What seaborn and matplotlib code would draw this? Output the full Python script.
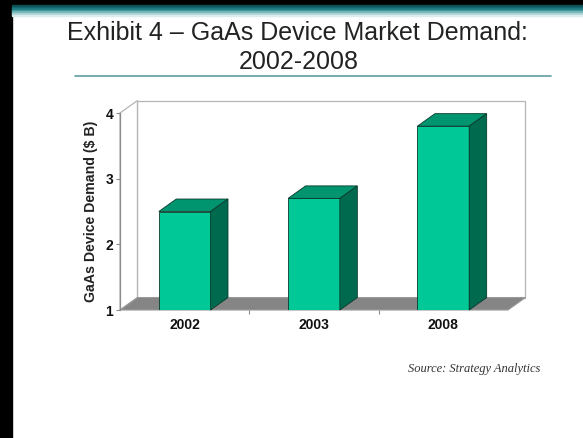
import matplotlib
matplotlib.use("Agg")
import matplotlib.pyplot as plt
from matplotlib.patches import Polygon, Rectangle
from matplotlib.lines import Line2D
import seaborn as sns
import pandas as pd

years = ["2002", "2003", "2008"]
demand = [2.5, 2.7, 3.8]          # $ billions
y_ticks = [1, 2, 3, 4]

sns.set_style("white")
plt.rcParams["font.family"] = ["Liberation Sans", "DejaVu Sans"]

W, H = 583, 438
fig = plt.figure(figsize=(W / 100, H / 100), dpi=100)
fig.patch.set_facecolor("white")


def fx(px):
    return px / W


def fy(py):
    return 1 - py / H


# slide frame: black edges and teal header strip
fig.add_artist(Rectangle((0, fy(438)), fx(12), 1, transform=fig.transFigure,
                         color="black", zorder=0))
fig.add_artist(Rectangle((0, fy(5)), 1, fy(0) - fy(5), transform=fig.transFigure,
                         color="black", zorder=0))
strip = ["#0d4f55", "#14646a", "#1e7a7e", "#3a9396", "#6fb3b5", "#a9d3d4", "#dcecec"]
for i, c in enumerate(strip):
    top = 5 + i * 1.6
    fig.add_artist(Rectangle((fx(12), fy(top + 1.6)), 1, 1.6 / H,
                             transform=fig.transFigure, color=c, zorder=0))

fig.text(fx(297), fy(33), "Exhibit 4 \u2013 GaAs Device Market Demand:",
         ha="center", va="center", fontsize=18, color="#222222")
fig.text(fx(299), fy(62), "2002-2008", ha="center", va="center",
         fontsize=18, color="#222222")
fig.add_artist(Line2D([fx(75), fx(551)], [fy(76), fy(76)],
                      transform=fig.transFigure, color="#5e9ea3", lw=1.2))

ax = fig.add_axes([fx(120), fy(310), fx(508) - fx(120), fy(113) - fy(310)])
df = pd.DataFrame({"year": years, "demand": demand})

front = "#00c896"
top_c = "#00956e"
side_c = "#006a4f"
edge = "#0a3a2c"

sns.barplot(data=df, x="year", y="demand", color=front, saturation=1,
            width=0.4, edgecolor=edge, linewidth=0.6, ax=ax, zorder=3)

ax.set_xlim(-0.5, 2.5)
ax.set_ylim(1, 4)

# depth of the pseudo-3D box, in data units
dx, dy = 0.135, 0.19
x0, x1 = -0.5, 2.5
y0, y1 = 1, 4

back = Polygon([(x0 + dx, y0 + dy), (x1 + dx, y0 + dy), (x1 + dx, y1 + dy),
                (x0 + dx, y1 + dy)], closed=True, facecolor="white",
               edgecolor="#b5b5b5", lw=0.9, zorder=0.2, clip_on=False)
left = Polygon([(x0, y0), (x0 + dx, y0 + dy), (x0 + dx, y1 + dy), (x0, y1)],
               closed=True, facecolor="white", edgecolor="#b5b5b5", lw=0.9,
               zorder=0.3, clip_on=False)
floor = Polygon([(x0, y0), (x1, y0), (x1 + dx, y0 + dy), (x0 + dx, y0 + dy)],
                closed=True, facecolor="#858585", edgecolor="#9a9a9a", lw=0.8,
                zorder=0.5, clip_on=False)
for p in (back, left, floor):
    ax.add_patch(p)

for bar, v in zip(ax.patches[:len(demand)], demand):
    bx, bw = bar.get_x(), bar.get_width()
    top = Polygon([(bx, v), (bx + bw, v), (bx + bw + dx, v + dy), (bx + dx, v + dy)],
                  closed=True, facecolor=top_c, edgecolor=edge, lw=0.6,
                  zorder=3, clip_on=False)
    side = Polygon([(bx + bw, y0), (bx + bw + dx, y0 + dy), (bx + bw + dx, v + dy),
                    (bx + bw, v)], closed=True, facecolor=side_c, edgecolor=edge,
                   lw=0.6, zorder=3, clip_on=False)
    ax.add_patch(top)
    ax.add_patch(side)

for s in ("top", "right", "bottom"):
    ax.spines[s].set_visible(False)
ax.spines["left"].set_color("#8c8c8c")
ax.spines["left"].set_linewidth(0.9)
ax.spines["left"].set_zorder(0.6)
ax.patch.set_alpha(0)

ax.set_yticks(y_ticks)
ax.set_yticklabels([str(t) for t in y_ticks], fontsize=10, fontweight="bold")
ax.tick_params(axis="y", left=True, length=3, width=0.8, color="#8c8c8c", pad=2)
ax.set_xticks(range(len(years)))
ax.set_xticklabels(years, fontsize=10, fontweight="bold")
ax.set_xticks([0.5, 1.5], minor=True)
ax.tick_params(axis="x", which="major", length=0, pad=6)
ax.tick_params(axis="x", which="minor", bottom=True, length=3, width=0.8,
               color="#8c8c8c")
ax.set_xlabel("")
ax.set_ylabel("GaAs Device Demand ($ B)", fontsize=10.2, fontweight="bold",
              labelpad=5, color="#222222")
for lab in ax.get_xticklabels() + ax.get_yticklabels():
    lab.set_color("#111111")

fig.text(fx(540), fy(369), "Source: Strategy Analytics", ha="right", va="center",
         fontsize=9, style="italic", family=["Liberation Serif", "DejaVu Serif"],
         color="#333333")

fig.savefig("out.png", dpi=100)
